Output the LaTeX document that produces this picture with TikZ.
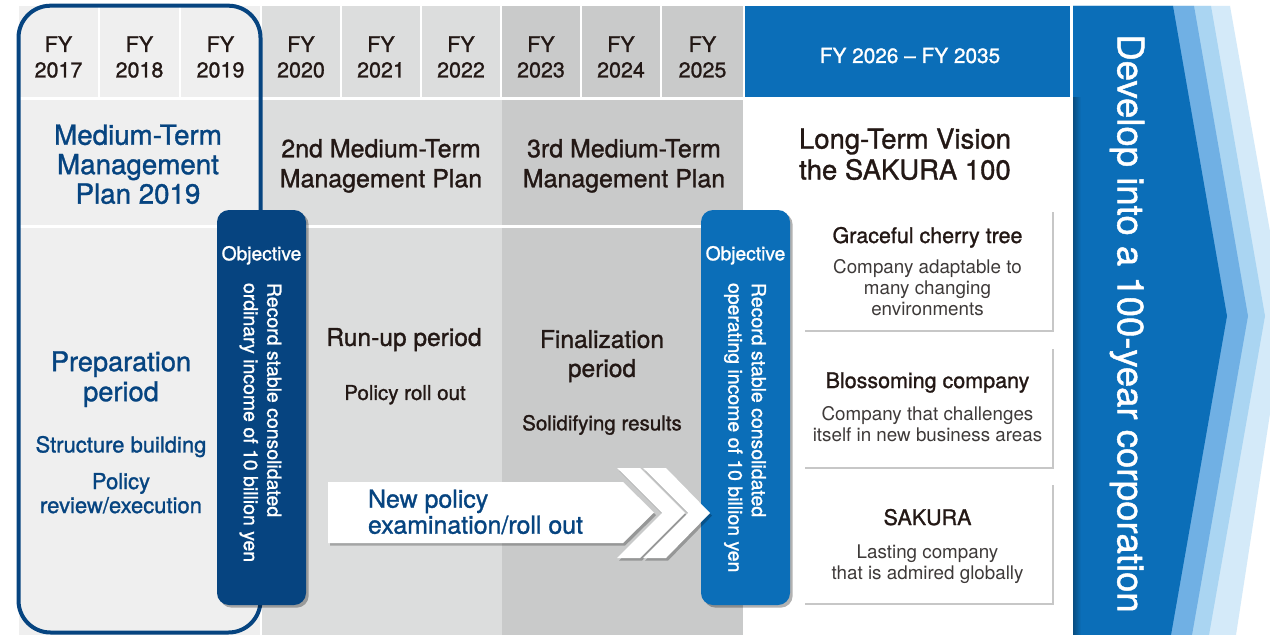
\documentclass[tikz,border=0pt]{standalone}
\usepackage{fontspec}
\setmainfont{TeX Gyre Heros}
\newfontfamily\medfont[FakeBold=1.2]{TeX Gyre Heros}
\usetikzlibrary{shadows}
\definecolor{navy}{RGB}{6,68,128}
\definecolor{sblue}{RGB}{11,110,184}
\definecolor{txtc}{RGB}{35,24,21}
\definecolor{bodyc}{RGB}{62,58,57}
\definecolor{gA}{RGB}{239,239,239}
\definecolor{gB}{RGB}{220,221,221}
\definecolor{gC}{RGB}{201,202,202}
\definecolor{bandA}{RGB}{112,176,228}
\definecolor{bandB}{RGB}{170,213,242}
\definecolor{bandC}{RGB}{212,234,249}
\newcommand\pxs[2]{\fontsize{#1}{#2}\selectfont}
\tikzset{
  lbl/.style={inner sep=0pt, outer sep=0pt, align=center, text=txtc},
  fylbl/.style={lbl, anchor=north, font={\medfont\pxs{16.1pt}{19.1pt}}},
  plantitle/.style={lbl, anchor=north, font={\medfont\pxs{18.7pt}{22.5pt}}},
  navytitle/.style={lbl, anchor=north, text=navy, font={\medfont\pxs{20.8pt}{22.1pt}}},
  periodlbl/.style={lbl, anchor=north, font={\medfont\pxs{18.4pt}{21.75pt}}},
  sublbl/.style={lbl, anchor=north, font={\medfont\pxs{15.4pt}{18pt}}},
  navysub/.style={lbl, anchor=north, text=navy, font={\medfont\pxs{16.5pt}{18pt}}},
  pillbox/.style={minimum width=66.75pt, minimum height=296.25pt, rounded corners=9pt, inner sep=0pt,
     drop shadow={shadow xshift=2pt, shadow yshift=-2pt, opacity=0.3, fill=black}},
  objlbl/.style={lbl, anchor=north, text=white, font={\medfont\pxs{14.4pt}{17pt}}},
  rotlbl/.style={lbl, anchor=west, align=left, rotate=-90, text=white, font={\medfont\pxs{14.6pt}{17.6pt}}},
  vbox/.style={fill=white, minimum width=186.75pt, minimum height=90pt, inner sep=0pt,
     drop shadow={shadow xshift=1.5pt, shadow yshift=-1.5pt, opacity=0.22, fill=black}},
  vtitle/.style={lbl, anchor=base, font={\medfont\pxs{16.1pt}{19pt}}},
  vbody/.style={lbl, anchor=north, text=bodyc, font={\pxs{14.1pt}{15.9pt}}},
  arrowshape/.style={fill=white, drop shadow={shadow xshift=1.5pt, shadow yshift=-2pt, opacity=0.25, fill=black}},
}
\begin{document}
\begin{tikzpicture}[x=0.75pt,y=-0.75pt]
\fill[white] (0,0) rectangle (1270,635);
\useasboundingbox (0,0) rectangle (1270,635);
\begin{scope}
\clip (0,0) rectangle (1270,635);
% header cells
\foreach \a/\b/\c in {19/98/gA,100/179/gA,181/260/gA,262/340/gB,342/420/gB,422/500/gB,502/580/gC,582/660/gC,662/743/gC}
  \fill[\c] (\a,6) rectangle (\b,97);
% plan row
\fill[gA] (19,100) rectangle (260,225);
\fill[gB] (262,100) rectangle (502,225);
\fill[gC] (502,100) rectangle (743,225);
% body
\fill[gA] (19,228) rectangle (260,635);
\fill[gB] (262,228) rectangle (502,635);
\fill[gC] (502,228) rectangle (743,635);
% long term header
\fill[sblue] (745,6) rectangle (1070,97);
\node[lbl, anchor=base, text=white, font={\medfont\pxs{15.6pt}{18pt}}] (fylong) at (910,63) {FY 2026 – FY 2035};
% FY labels
\node[fylbl] (fy17) at (58.5,36.3) {FY\\2017};
\node[fylbl] (fy18) at (139.5,36.3) {FY\\2018};
\node[fylbl] (fy19) at (220.5,36.3) {FY\\2019};
\node[fylbl] (fy20) at (301,36.3) {FY\\2020};
\node[fylbl] (fy21) at (381,36.3) {FY\\2021};
\node[fylbl] (fy22) at (461,36.3) {FY\\2022};
\node[fylbl] (fy23) at (541,36.3) {FY\\2023};
\node[fylbl] (fy24) at (621,36.3) {FY\\2024};
\node[fylbl] (fy25) at (702.5,36.3) {FY\\2025};
% banner
\fill[bandC] (1073,6) -- (1230,6) -- (1285,316) -- (1236,635) -- (1073,635) -- cycle;
\fill[bandB] (1073,6) -- (1211,6) -- (1265,316) -- (1209,635) -- (1073,635) -- cycle;
\fill[bandA] (1073,6) -- (1194,6) -- (1248,316) -- (1192,635) -- (1073,635) -- cycle;
\fill[sblue] (1073,6) -- (1173,6) -- (1227,316) -- (1171,635) -- (1073,635) -- cycle;
\shade[left color=black!30!sblue, right color=sblue] (1073,97) rectangle (1081,635);
\node[lbl, rotate=-90, text=white, font={\medfont\pxs{27.4pt}{30pt}}] (banner) at (1127,323.5) {Develop into a 100-year corporation};
% outline of plan 2019
\draw[navy, line width=3pt, rounded corners=24pt] (18.5,5.7) rectangle (260.5,632.5);
% plan titles
\node[navytitle] (mtp1) at (138,124.5) {Medium-Term\\Management\\Plan 2019};
\node[plantitle] (mtp2) at (381,139.1) {2nd Medium-Term\\Management Plan};
\node[plantitle] (mtp3) at (624,139.1) {3rd Medium-Term\\Management Plan};
\node[lbl, anchor=north, font={\medfont\pxs{20.6pt}{23.25pt}}] (ltv) at (905,128.5) {Long-Term Vision\\the SAKURA 100};
% period labels
\node[navytitle, font={\medfont\pxs{20.4pt}{22.5pt}}] (prep) at (121,351.3) {Preparation\\period};
\node[navysub] (struct) at (121,436) {Structure building};
\node[navysub] (review) at (121,473) {Policy\\review/execution};
\node[periodlbl] (runup) at (404,328) {Run-up period};
\node[sublbl] (rollout) at (405,385) {Policy roll out};
\node[periodlbl] (final) at (602,330) {Finalization\\period};
\node[sublbl] (solid) at (602,415) {Solidifying results};
% objective pills
\node[pillbox, fill=navy] (pill1) at (261.5,407.5) {};
\node[objlbl] (obj1) at (261.5,246) {Objective};
\node[rotlbl] (goal1) at (260.5,283) {Record stable consolidated\\ordinary income of 10 billion yen};
\node[pillbox, fill=sblue] (pill2) at (745.5,407.5) {};
\node[objlbl] (obj2) at (745.5,246) {Objective};
\node[rotlbl] (goal2) at (745,283) {Record stable consolidated\\operating income of 10 billion yen};
% new policy arrow
\path[arrowshape] (328,482) -- (623,482) -- (654,512.5) -- (623,543) -- (328,543) -- cycle;
\path[arrowshape] (617,468) -- (640,468) -- (685,513) -- (640,558) -- (617,558) -- (662,513) -- cycle;
\path[arrowshape] (643,468) -- (666,468) -- (710,513) -- (666,558) -- (643,558) -- (688,513) -- cycle;
\node[lbl, anchor=north west, align=left, text=navy, font={\medfont\pxs{18.7pt}{19.5pt}}] (newpol) at (368,489.5) {New policy\\examination/roll out};
% vision boxes
\node[vbox] (box1) at (927.5,270) {};
\node[vbox] (box2) at (927.5,407) {};
\node[vbox] (box3) at (927.5,543) {};
\node[vtitle] (t1) at (927.5,243) {Graceful cherry tree};
\node[vbody] (d1) at (927.5,259.3) {Company adaptable to\\many changing\\environments};
\node[vtitle] (t2) at (927.5,388) {Blossoming company};
\node[vbody] (d2) at (927.5,406.3) {Company that challenges\\itself in new business areas};
\node[vtitle] (t3) at (927.5,525) {SAKURA};
\node[vbody] (d3) at (927.5,544.3) {Lasting company\\that is admired globally};
\end{scope}
\end{tikzpicture}
\end{document}
